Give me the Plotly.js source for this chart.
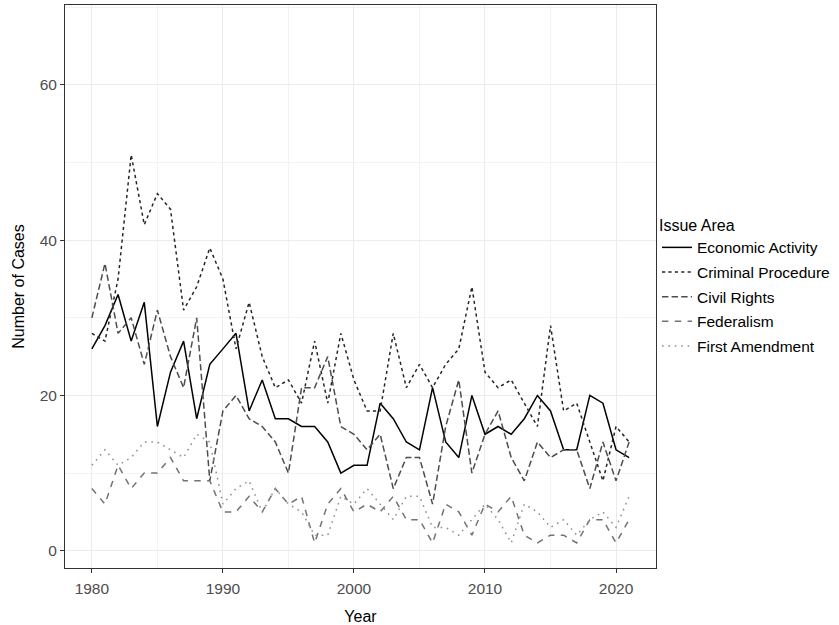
<!DOCTYPE html>
<html>
<head>
<meta charset="utf-8">
<script src="https://cdn.plot.ly/plotly-3.0.1.min.js"></script>
<style>html,body{margin:0;padding:0;background:#fff;}#chart{width:839px;height:625px;}</style>
</head>
<body>
<div id="chart"></div>
<script>
const years = [1980,1981,1982,1983,1984,1985,1986,1987,1988,1989,1990,1991,1992,1993,1994,1995,1996,1997,1998,1999,2000,2001,2002,2003,2004,2005,2006,2007,2008,2009,2010,2011,2012,2013,2014,2015,2016,2017,2018,2019,2020,2021];
const economicActivity = [26,29,33,27,32,16,23,27,17,24,26,28,18,22,17,17,16,16,14,10,11,11,19,17,14,13,21,14,12,20,15,16,15,17,20,18,13,13,20,19,13,12];
const criminalProcedure = [28,27,35,51,42,46,44,31,34,39,35,26,32,25,21,22,19,27,19,28,22,18,18,28,21,24,21,24,26,34,23,21,22,19,16,29,18,19,14,9,16,14];
const civilRights = [30,37,28,30,24,31,25,21,30,9,18,20,17,16,14,10,21,21,25,16,15,13,15,8,12,12,6,16,22,10,15,18,12,9,14,12,13,13,8,14,9,14];
const federalism = [8,6,11,8,10,10,12,9,9,9,5,5,7,5,8,6,7,1,6,8,5,6,5,7,4,4,1,6,5,2,6,5,7,2,1,2,2,1,4,4,1,4];
const firstAmendment = [11,13,11,12,14,14,13,12,15,14,6,8,9,5,8,6,5,2,2,7,6,8,6,4,7,7,3,3,2,4,6,4,1,6,5,3,4,2,4,5,3,7];
const seriesNames = ["Economic Activity","Criminal Procedure","Civil Rights","Federalism","First Amendment"];
const xTicks = [1980,1990,2000,2010,2020];
const yTicks = [0,20,40,60];

const seriesData = [economicActivity, criminalProcedure, civilRights, federalism, firstAmendment];
const colors = ["#000000","#262626","#4d4d4d","#737373","#8f8f8f"];
const dashes = ["solid","3.2px,3.2px","6.4px,3.2px","6.4px,6.4px","1.6px,4.8px"];

const traces = seriesData.map((vals, i) => ({
  type: "scatter", mode: "lines", x: years, y: vals, name: seriesNames[i],
  legendgroup: "g" + i,
  line: {color: colors[i], width: 1.5, dash: dashes[i]}
}));

const tickFont = {family: "Liberation Sans, Arial, sans-serif", size: 15.5, color: "#4d4d4d"};
const layout = {
  width: 839, height: 625,
  margin: {l: 65, r: 182, t: 5, b: 57},
  paper_bgcolor: "#ffffff", plot_bgcolor: "#ffffff",
  font: {family: "Liberation Sans, Arial, sans-serif", color: "#000"},
  showlegend: true,
  legend: {
    x: 1.0, xanchor: "left", y: 0.5, yanchor: "middle",
    font: {size: 15.5, color: "#000"},
    title: {text: "Issue Area", font: {size: 16, color: "#000"}},
    tracegroupgap: 1.5, bgcolor: "rgba(0,0,0,0)"
  },
  xaxis: {
    range: [1977.95, 2023.05], tickvals: xTicks, ticktext: xTicks.map(String),
    showgrid: true, gridcolor: "#ebebeb", gridwidth: 1,
    minor: {dtick: 5, tick0: 1975, showgrid: true, gridcolor: "#ebebeb", gridwidth: 0.6},
    zeroline: false, showline: true, linecolor: "#333333", linewidth: 1, mirror: true,
    ticks: "outside", ticklen: 4, tickcolor: "#333333", tickwidth: 1,
    tickfont: tickFont, ticklabelstandoff: 2,
    title: {text: "Year", font: {size: 16, color: "#000"}, standoff: 16}
  },
  yaxis: {
    range: [-2.23, 70.3], tickvals: yTicks, ticktext: yTicks.map(String),
    showgrid: true, gridcolor: "#ebebeb", gridwidth: 1,
    minor: {dtick: 10, tick0: 0, showgrid: true, gridcolor: "#ebebeb", gridwidth: 0.6},
    zeroline: false, showline: true, linecolor: "#333333", linewidth: 1, mirror: true,
    ticks: "outside", ticklen: 4, tickcolor: "#333333", tickwidth: 1,
    tickfont: tickFont,
    title: {text: "Number of Cases", font: {size: 16, color: "#000"}, standoff: 11}
  }
};
Plotly.newPlot("chart", traces, layout, {displayModeBar: false, staticPlot: true});
</script>
</body>
</html>
